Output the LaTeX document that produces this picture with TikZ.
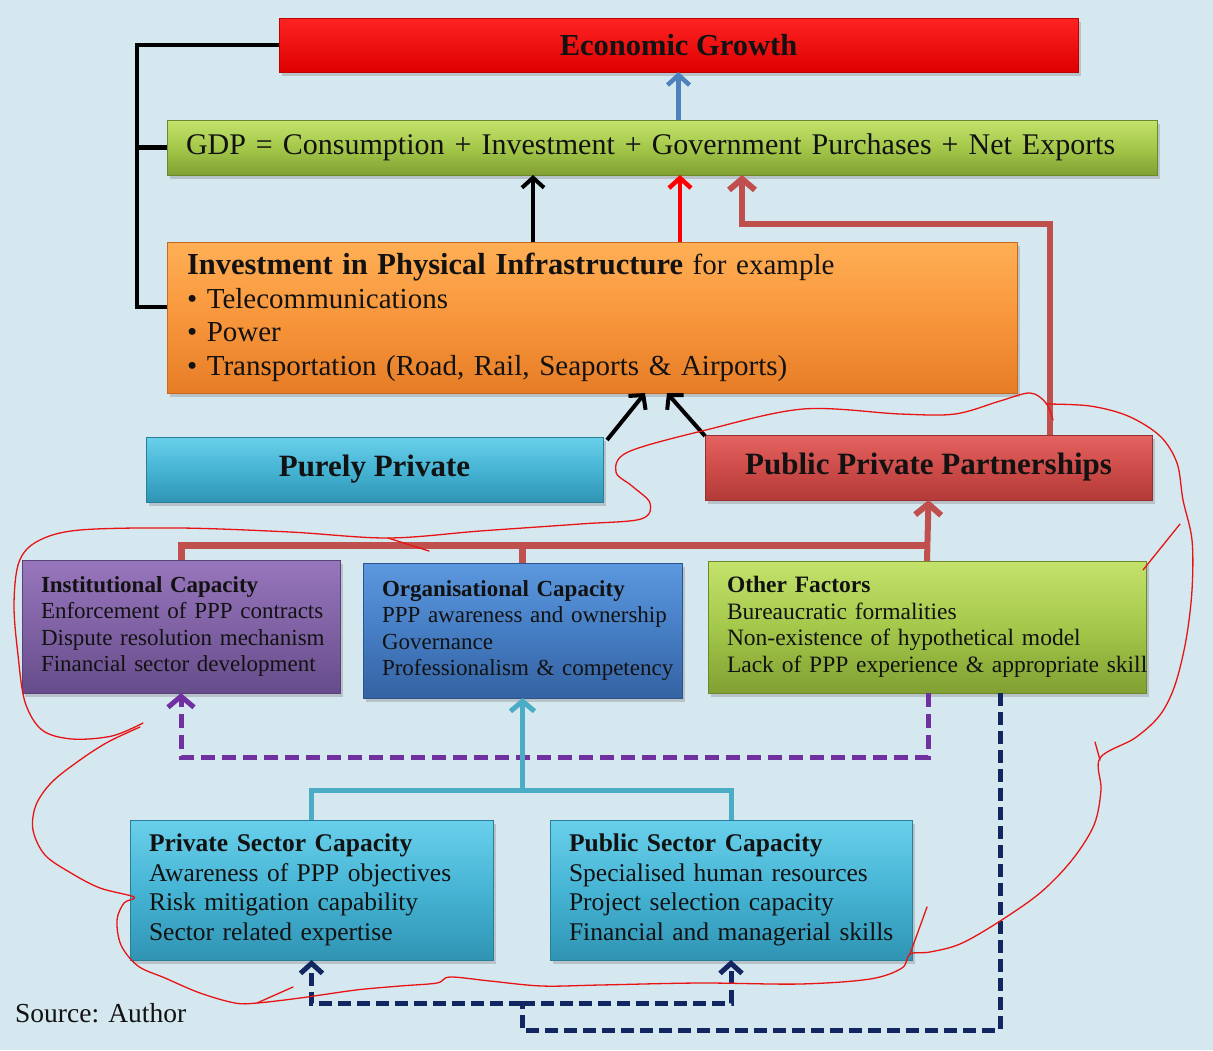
\documentclass[tikz,border=0pt]{standalone}
\usepackage{fontspec}
\setmainfont{Liberation Serif}
\usetikzlibrary{arrows.meta,shadows,calc}
\definecolor{bgc}{RGB}{213,232,240}
\definecolor{egtop}{RGB}{255,35,35}
\definecolor{egbot}{RGB}{222,0,0}
\definecolor{grtop}{RGB}{196,226,108}
\definecolor{grmid}{RGB}{164,200,74}
\definecolor{grbot}{RGB}{128,160,50}
\definecolor{ortop}{RGB}{255,175,85}
\definecolor{ormid}{RGB}{248,150,60}
\definecolor{orbot}{RGB}{230,125,38}
\definecolor{cytop}{RGB}{105,208,235}
\definecolor{cymid}{RGB}{70,180,212}
\definecolor{cybot}{RGB}{48,148,180}
\definecolor{pptop}{RGB}{228,98,95}
\definecolor{ppmid}{RGB}{206,76,73}
\definecolor{ppbot}{RGB}{178,58,56}
\definecolor{putop}{RGB}{152,118,188}
\definecolor{pumid}{RGB}{128,98,165}
\definecolor{pubot}{RGB}{102,76,138}
\definecolor{bltop}{RGB}{92,152,222}
\definecolor{blmid}{RGB}{70,126,196}
\definecolor{blbot}{RGB}{52,98,162}
\definecolor{brn}{RGB}{192,80,77}
\definecolor{arrblue}{RGB}{79,129,189}
\definecolor{cyl}{RGB}{75,172,198}
\definecolor{purl}{RGB}{112,48,160}
\definecolor{navl}{RGB}{18,38,98}
\definecolor{txt}{RGB}{18,18,18}
\definecolor{scr}{RGB}{232,20,20}
\newcommand{\tightsp}{\spaceskip=0.16em plus 0.05em minus 0.05em\relax}
\tikzset{
  box/.style={rectangle, anchor=north west, inner sep=0pt, outer sep=0pt, text=txt,
    drop shadow={shadow xshift=3pt, shadow yshift=-4pt, opacity=0.35}},
  egbox/.style={box, top color=egtop, bottom color=egbot, draw=egbot!85!black, line width=0.6pt},
  grbox/.style={box, top color=grtop, bottom color=grbot, middle color=grmid, draw=grbot!85!black, line width=0.6pt},
  orbox/.style={box, top color=ortop, bottom color=orbot, middle color=ormid, draw=orbot!85!black, line width=0.6pt},
  cybox/.style={box, top color=cytop, bottom color=cybot, middle color=cymid, draw=cybot!85!black, line width=0.6pt},
  ppbox/.style={box, top color=pptop, bottom color=ppbot, middle color=ppmid, draw=ppbot!85!black, line width=0.6pt},
  pubox/.style={box, top color=putop, bottom color=pubot, middle color=pumid, draw=pubot!85!black, line width=0.6pt},
  blbox/.style={box, top color=bltop, bottom color=blbot, middle color=blmid, draw=blbot!85!black, line width=0.6pt},
  listbox/.style={align=left, inner xsep=19pt},
  fcap/.style={font=\fontsize{23.5}{26.5}\selectfont},
  fcapt/.style={font=\fontsize{23}{26.5}\selectfont\tightsp},
  fsec/.style={font=\fontsize{25.5}{29.5}\selectfont},
  blkline/.style={draw=black, line width=4.5pt},
  blkarr/.style={draw=black, line width=4pt, -{Straight Barb[length=10pt,width=22pt]}},
  bluarr/.style={draw=arrblue, line width=4.5pt, -{Straight Barb[length=10pt,width=22pt]}},
  redarr/.style={draw=red, line width=4.5pt, -{Straight Barb[length=10pt,width=22pt]}},
  brnarr/.style={draw=brn, line width=6pt, -{Straight Barb[length=11pt,width=26pt]}},
  brnline/.style={draw=brn, line width=7pt},
  cyline/.style={draw=cyl, line width=5pt},
  cyarr/.style={draw=cyl, line width=5pt, -{Straight Barb[length=10pt,width=24pt]}},
  purarr/.style={draw=purl, line width=5pt, dash pattern=on 14pt off 7pt, -{Straight Barb[length=11pt,width=26pt]}},
  navline/.style={draw=navl, line width=5pt, dash pattern=on 13pt off 6pt},
  navarr/.style={draw=navl, line width=5pt, dash pattern=on 13pt off 6pt, -{Straight Barb[length=10pt,width=22pt]}},
  scrib/.style={draw=scr, line width=1.3pt, line cap=round, line join=round},
}
\begin{document}
\begin{tikzpicture}[x=1pt,y=-1pt]
\useasboundingbox (0,0) rectangle (1213,1050);
\fill[bgc] (0,0) rectangle (1213,1050);

% boxes
\node[egbox, minimum width=799pt, minimum height=54pt, font=\bfseries\fontsize{30.5}{36}\selectfont] (eg) at (279,18) {Economic Growth};
\node[grbox, listbox, text width=952pt, minimum height=55pt, font=\fontsize{30}{36}\selectfont] (gdp) at (167,120) {\mbox{GDP = Consumption + Investment + Government Purchases + Net Exports}};
\node[orbox, align=left, inner xsep=20pt, text width=810pt, minimum height=151pt, font=\fontsize{29}{33.5}\selectfont] (inv) at (167,242)
 {\mbox{{\fontsize{30.5}{33.5}\selectfont\bfseries Investment in Physical Infrastructure} for example}\\
  \textbullet\ Telecommunications\\
  \textbullet\ Power\\
  \textbullet\ Transportation (Road, Rail, Seaports \& Airports)};
\node[cybox, minimum width=457pt, minimum height=65pt, font=\bfseries\fontsize{31}{36}\selectfont] (pp) at (146,437) {Purely Private};
\node[ppbox, minimum width=447pt, minimum height=65pt, font=\bfseries\fontsize{31}{36}\selectfont] (ppp) at (705,435) {Public Private Partnerships};

\node[pubox, listbox, fcapt, text width=280pt, minimum height=133pt] (inst) at (22,560)
 {\mbox{\textbf{Institutional Capacity}}\\\mbox{Enforcement of PPP contracts}\\\mbox{Dispute resolution mechanism}\\\mbox{Financial sector development}};
\node[blbox, listbox, fcapt, text width=281pt, minimum height=135pt] (org) at (363,563)
 {\mbox{\textbf{Organisational Capacity}}\\\mbox{PPP awareness and ownership}\\\mbox{Governance}\\\mbox{Professionalism \& competency}};
\node[grbox, listbox, fcap, text width=400pt, minimum height=132pt] (oth) at (708,561)
 {\mbox{\textbf{Other Factors}}\\\mbox{Bureaucratic formalities}\\\mbox{Non-existence of hypothetical model}\\\mbox{Lack of PPP experience \& appropriate skill}};

\node[cybox, listbox, fsec, text width=325pt, minimum height=140pt] (priv) at (130,820)
 {\mbox{\textbf{Private Sector Capacity}}\\\mbox{Awareness of PPP objectives}\\\mbox{Risk mitigation capability}\\\mbox{Sector related expertise}};
\node[cybox, listbox, fsec, text width=324pt, minimum height=140pt] (pub) at (550,820)
 {\mbox{\textbf{Public Sector Capacity}}\\\mbox{Specialised human resources}\\\mbox{Project selection capacity}\\\mbox{Financial and managerial skills}};

\node[anchor=west, inner sep=0pt, text=txt, font=\fontsize{27.5}{30}\selectfont] (src) at (15,1013) {Source: Author};

% helper coordinates
\coordinate (brk) at (137,0);
\coordinate (hb) at (0,545);
\coordinate (cb) at (0,790);
\coordinate (nb) at (522,1003);

% black bracket
\draw[blkline] (eg.west) -| ([yshift=10.5pt]inv.west -| brk) -- ([yshift=10.5pt]inv.west);
\draw[blkline] (gdp.west -| brk) -- (gdp.west);

% arrows to GDP and growth
\draw[bluarr] (gdp.north -| eg.south) -- (eg.south);
\draw[blkarr] ([xshift=-59pt]inv.north) -- ([xshift=-59pt]inv.north |- gdp.south);
\draw[redarr] ([xshift=88pt]inv.north) -- ([xshift=88pt]inv.north |- gdp.south);
\draw[brnarr] ([xshift=121.5pt]ppp.north) -- ++(0,-211) -| ([xshift=80pt]gdp.south);

% private / ppp to investment
\draw[blkarr] ([xshift=4pt,yshift=-3pt]pp.north east) -- ([xshift=53pt]inv.south);
\draw[blkarr] ([yshift=-1pt]ppp.north west) -- ([xshift=75pt]inv.south);

% capacities to PPP
\draw[brnline] (inst.north) |- (hb -| oth.north);
\draw[brnline] (org.north) -- (org.north |- hb);
\draw[brnarr] (oth.north) -- (ppp.south);

% purple dashed
\draw[purarr] ([xshift=1pt]oth.south) -- ++(0,64) -| (inst.south);

% cyan
\draw[cyline] (priv.north) |- (cb -| pub.north) -- (pub.north);
\draw[cyarr] (cb -| org.south) -- (org.south);

% navy dashed
\draw[navline] ([xshift=73pt]oth.south) -- ++(0,337) -| (nb);
\draw[navarr] (nb) -| (priv.south);
\draw[navarr] (nb) -| (pub.south);

% hand-drawn red scribble
\draw[scrib] plot[smooth, tension=0.55] coordinates {
 (143,723) (112,736) (72,739) (42,730) (25,702) (18,655) (14,605) (19,562) (38,541) (80,530)
 (180,528) (290,532) (388,538) (480,531) (580,524) (641,519) (650,503) (632,486) (616,472)
 (628,452) (706,430) (803,409) (900,414) (955,414) (1000,401) (1030,393) (1046,403) (1053,420)};
\draw[scrib] plot[smooth, tension=0.55] coordinates {
 (1046,404) (1090,406) (1128,416) (1160,436) (1177,463) (1183,500) (1192,540) (1192,590)
 (1186,640) (1175,685) (1160,715) (1135,738) (1100,758) (1101,790) (1094,825) (1072,860)
 (1040,893) (997,923) (960,944) (930,952) (910,954) (902,968) (870,979) (800,984) (700,983)
 (600,985) (542,986) (490,981) (450,977) (437,983) (400,986) (356,990) (300,998) (257,1003)
 (235,1003) (200,993) (165,978) (138,966) (121,945) (117,920) (124,903) (134,897) (100,888)
 (71,873) (45,855) (33,830) (36,805) (52,782) (80,760) (108,742) (140,727)};
\draw[scrib] (388,538) -- (429,551);
\draw[scrib] (1180,524) -- (1143,570);
\draw[scrib] (1095,742) -- (1100,760);
\draw[scrib] (910,954) -- (927,907);
\draw[scrib] (257,1003) -- (293,987);
\end{tikzpicture}
\end{document}
